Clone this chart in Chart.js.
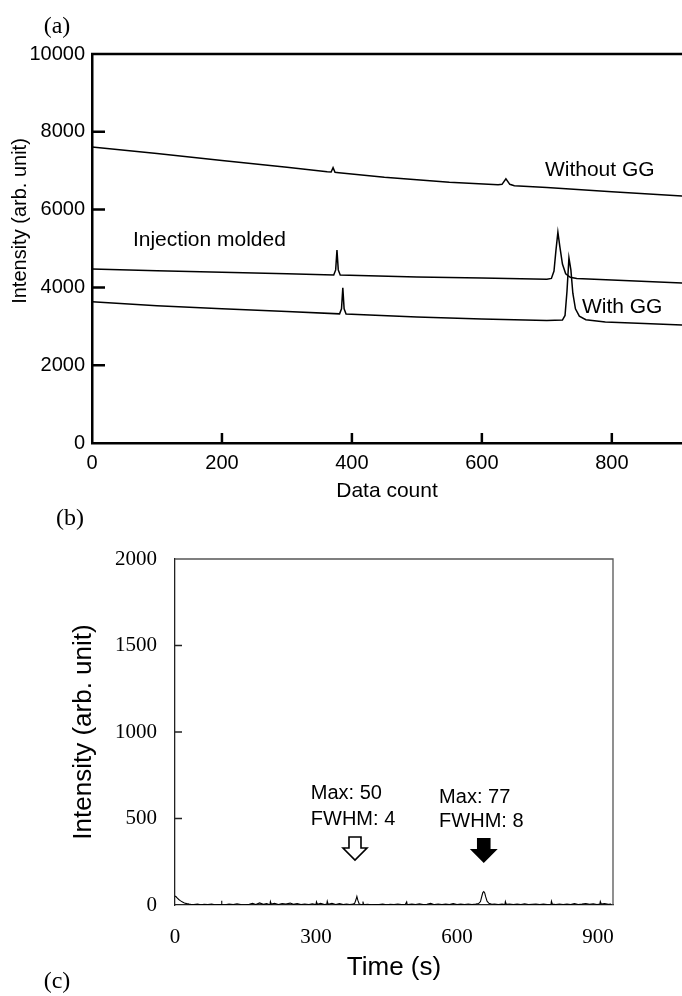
<!DOCTYPE html>
<html>
<head>
<meta charset="utf-8">
<script src="https://cdn.jsdelivr.net/npm/chart.js@4.4.1/dist/chart.umd.min.js"></script>
<style>
  body { margin: 0; background: #fff; }
  #page { position: relative; width: 682px; height: 996px; overflow: hidden; background: #fff; }
  .panel { position: absolute; left: 0; }
  .tag { position: absolute; font-family: "Liberation Serif", serif; font-size: 24px; color: #000; transform: translate(-50%, -50%); }
</style>
</head>
<body>
<div id="page">
  <div class="panel" style="top:0"><canvas id="chartA" width="682" height="510"></canvas></div>
  <div class="panel" style="top:520px"><canvas id="chartB" width="682" height="476"></canvas></div>
  <div class="tag" style="left:57px; top:25px">(a)</div>
  <div class="tag" style="left:70px; top:517px">(b)</div>
  <div class="tag" style="left:57px; top:980px">(c)</div>
</div>
<script>
// (a) spectra vs data count
const countWithout = [0, 100, 200, 300, 362, 368, 371, 374, 380, 450, 550, 625, 631, 637, 643, 650, 700, 800, 910];
const intWithout   = [7610, 7440, 7260, 7090, 6970, 6965, 7080, 6960, 6950, 6830, 6700, 6640, 6650, 6790, 6650, 6615, 6570, 6460, 6350];

const countInjection = [0, 100, 200, 300, 372, 375, 377, 379, 382, 500, 600, 700, 707, 711, 714, 717, 720, 724, 729, 736, 746, 800, 910];
const intInjection   = [4470, 4430, 4390, 4350, 4320, 4450, 4960, 4450, 4320, 4270, 4240, 4210, 4230, 4420, 4950, 5420, 5050, 4600, 4350, 4260, 4230, 4190, 4110];

const countWith = [0, 100, 200, 300, 381, 384, 386, 388, 391, 500, 600, 700, 724, 728, 731, 734, 737, 740, 744, 750, 760, 790, 850, 910];
const intWith   = [3630, 3530, 3450, 3380, 3320, 3450, 3990, 3450, 3315, 3240, 3190, 3150, 3160, 3280, 3900, 4760, 4450, 3850, 3450, 3260, 3170, 3110, 3070, 3030];

const yTicksA = [0, 2000, 4000, 6000, 8000, 10000];
const xTicksA = [0, 200, 400, 600, 800];

// (b) time trace
const timeS = [
  0, 2, 5, 8, 12, 16, 20, 25, 30, 35,
  40, 48, 55, 62, 70, 78, 85, 92, 98, 99,
  100, 106, 115, 124, 132, 140, 150, 158, 165, 172,
  180, 188, 195, 202, 203, 205, 212, 220, 228, 236,
  245, 252, 260, 268, 276, 285, 292, 300, 301, 303,
  310, 318, 323, 324, 326, 334, 342, 350, 358, 365,
  372, 378, 382, 385, 387, 389, 392, 395, 398, 400,
  401, 404, 410, 418, 426, 434, 442, 450, 458, 466,
  474, 482, 490, 493, 494, 496, 504, 512, 520, 528,
  536, 544, 552, 560, 568, 576, 584, 592, 600, 608,
  616, 624, 632, 640, 646, 650, 653, 655, 657, 659,
  661, 664, 668, 674, 680, 688, 696, 702, 703, 705,
  712, 720, 728, 736, 744, 752, 760, 768, 776, 784,
  792, 800, 801, 803, 810, 818, 826, 834, 842, 850,
  858, 866, 874, 882, 890, 898, 904, 905, 907, 914,
  922, 928
];
const signal = [
  52, 48, 40, 32, 24, 17, 12, 8, 5, 3,
  2, 5, 1, 4, 2, 6, 1, 3, 2, 24,
  3, 1, 5, 2, 7, 3, 1, 4, 9, 3,
  12, 4, 8, 2, 20, 5, 10, 3, 9, 6,
  11, 4, 8, 2, 6, 3, 7, 2, 18, 4,
  9, 3, 5, 22, 4, 10, 3, 8, 2, 6,
  3, 5, 8, 30, 50, 28, 6, 4, 3, 20,
  5, 2, 4, 1, 3, 2, 5, 1, 4, 2,
  6, 2, 3, 18, 4, 2, 5, 3, 7, 2,
  4, 9, 2, 6, 3, 5, 2, 8, 3, 5,
  2, 6, 3, 5, 8, 20, 52, 72, 77, 70,
  48, 22, 10, 4, 6, 2, 5, 3, 20, 4,
  6, 2, 5, 3, 7, 2, 4, 6, 2, 5,
  3, 4, 22, 5, 2, 6, 3, 5, 2, 8,
  3, 5, 9, 4, 7, 3, 5, 20, 6, 8,
  4, 6
];
const yTicksB = [0, 500, 1000, 1500, 2000];
const xTicksB = [0, 300, 600, 900];

const toPoints = (xs, ys) => xs.map((v, i) => ({ x: v, y: ys[i] }));
const sans = '"Liberation Sans", Arial, sans-serif';
const serif = '"Liberation Serif", "Times New Roman", serif';
const plain = v => String(v);

function lineSet(xs, ys, width) {
  return { data: toPoints(xs, ys), borderColor: '#000', borderWidth: width, pointRadius: 0, tension: 0, fill: false };
}

new Chart(document.getElementById('chartA'), {
  type: 'line',
  data: {
    datasets: [
      lineSet(countWithout, intWithout, 1.5),
      lineSet(countInjection, intInjection, 1.5),
      lineSet(countWith, intWith, 1.5)
    ]
  },
  options: {
    responsive: false,
    animation: false,
    layout: { padding: { top: 54, left: 0, right: 0, bottom: 0 } },
    plugins: { legend: { display: false }, tooltip: { enabled: false } },
    scales: {
      x: {
        type: 'linear', min: 0, max: 908,
        afterBuildTicks: s => { s.ticks = xTicksA.map(v => ({ value: v })); },
        afterFit: s => { s.height = 67; },
        grid: { display: false, drawTicks: false },
        border: { display: true, color: '#000', width: 2.5 },
        ticks: { color: '#000', padding: 8, callback: plain, font: { family: sans, size: 20 } },
        title: { display: true, text: 'Data count', color: '#000', font: { family: sans, size: 21 }, padding: { top: 0, bottom: 6 } }
      },
      y: {
        type: 'linear', min: 0, max: 10000,
        afterBuildTicks: s => { s.ticks = yTicksA.map(v => ({ value: v })); },
        afterFit: s => { s.width = 92; },
        grid: { display: false, drawTicks: false },
        border: { display: true, color: '#000', width: 2.5 },
        ticks: { color: '#000', padding: 7, callback: plain, font: { family: sans, size: 20 } }
      }
    }
  },
  plugins: [{
    id: 'decorA',
    afterDraw(chart) {
      const { ctx, chartArea: a, scales: { x, y } } = chart;
      ctx.save();
      ctx.strokeStyle = '#000';
      ctx.lineWidth = 2.5;
      ctx.beginPath();
      ctx.moveTo(a.left - 1, a.top);
      ctx.lineTo(a.right, a.top);
      yTicksA.slice(1, -1).forEach(v => {
        const py = y.getPixelForValue(v);
        ctx.moveTo(a.left, py); ctx.lineTo(a.left + 13, py);
      });
      xTicksA.slice(1).forEach(v => {
        const px = x.getPixelForValue(v);
        ctx.moveTo(px, a.bottom); ctx.lineTo(px, a.bottom - 10);
      });
      ctx.stroke();

      ctx.fillStyle = '#000';
      ctx.font = '21px ' + sans;
      ctx.textAlign = 'left';
      ctx.textBaseline = 'middle';
      ctx.fillText('Without GG', x.getPixelForValue(697), y.getPixelForValue(7018));
      ctx.fillText('Injection molded', x.getPixelForValue(63), y.getPixelForValue(5219));
      ctx.fillText('With GG', x.getPixelForValue(754), y.getPixelForValue(3496));

      ctx.translate(20, 221);
      ctx.rotate(-Math.PI / 2);
      ctx.textAlign = 'center';
      ctx.font = '20px ' + sans;
      ctx.fillText('Intensity (arb. unit)', 0, 0);
      ctx.restore();
    }
  }]
});

function drawArrow(ctx, tipX, tipY, filled) {
  const shaftHalf = 6, headHalf = 12, headLen = 12, total = 23;
  ctx.beginPath();
  ctx.moveTo(tipX - shaftHalf, tipY - total);
  ctx.lineTo(tipX + shaftHalf, tipY - total);
  ctx.lineTo(tipX + shaftHalf, tipY - headLen);
  ctx.lineTo(tipX + headHalf, tipY - headLen);
  ctx.lineTo(tipX, tipY);
  ctx.lineTo(tipX - headHalf, tipY - headLen);
  ctx.lineTo(tipX - shaftHalf, tipY - headLen);
  ctx.closePath();
  if (filled) { ctx.fillStyle = '#000'; ctx.fill(); }
  ctx.lineWidth = 1.6;
  ctx.strokeStyle = '#000';
  ctx.stroke();
}

new Chart(document.getElementById('chartB'), {
  type: 'line',
  data: { datasets: [lineSet(timeS, signal, 1.1)] },
  options: {
    responsive: false,
    animation: false,
    layout: { padding: { top: 39, left: 0, right: 69, bottom: 0 } },
    plugins: { legend: { display: false }, tooltip: { enabled: false } },
    scales: {
      x: {
        type: 'linear', min: 0, max: 932,
        afterBuildTicks: s => { s.ticks = xTicksB.map(v => ({ value: v })); },
        afterFit: s => { s.height = 91; },
        grid: { display: false, drawTicks: false },
        border: { display: true, color: '#222', width: 1.3 },
        ticks: { color: '#000', padding: 20, callback: plain, font: { family: serif, size: 21 } },
        title: { display: true, text: 'Time (s)', color: '#000', font: { family: sans, size: 26 }, padding: { top: 0, bottom: 13 } }
      },
      y: {
        type: 'linear', min: 0, max: 2000,
        afterBuildTicks: s => { s.ticks = yTicksB.map(v => ({ value: v })); },
        afterFit: s => { s.width = 175; },
        grid: { display: false, drawTicks: false },
        border: { display: true, color: '#222', width: 1.3 },
        ticks: { color: '#000', padding: 18, callback: plain, font: { family: serif, size: 21 } },
        title: { display: true, text: 'Intensity (arb. unit)', color: '#000', font: { family: sans, size: 26 }, padding: { top: 68, bottom: 0 } }
      }
    }
  },
  plugins: [{
    id: 'decorB',
    afterDraw(chart) {
      const { ctx, chartArea: a, scales: { x, y } } = chart;
      ctx.save();
      ctx.strokeStyle = '#555';
      ctx.lineWidth = 1.3;
      ctx.beginPath();
      ctx.moveTo(a.left, a.top);
      ctx.lineTo(a.right, a.top);
      ctx.lineTo(a.right, a.bottom);
      ctx.stroke();
      ctx.strokeStyle = '#222';
      ctx.beginPath();
      yTicksB.slice(1, -1).forEach(v => {
        const py = y.getPixelForValue(v);
        ctx.moveTo(a.left, py); ctx.lineTo(a.left + 7, py);
      });
      ctx.stroke();

      ctx.fillStyle = '#000';
      ctx.font = '20px ' + sans;
      ctx.textAlign = 'left';
      ctx.textBaseline = 'middle';
      ctx.fillText('Max: 50', x.getPixelForValue(289), y.getPixelForValue(647));
      ctx.fillText('FWHM: 4', x.getPixelForValue(289), y.getPixelForValue(497));
      ctx.fillText('Max: 77', x.getPixelForValue(562), y.getPixelForValue(624));
      ctx.fillText('FWHM: 8', x.getPixelForValue(562), y.getPixelForValue(480));

      drawArrow(ctx, x.getPixelForValue(383), y.getPixelForValue(260), false);
      drawArrow(ctx, x.getPixelForValue(657), y.getPixelForValue(249), true);
      ctx.restore();
    }
  }]
});
</script>
</body>
</html>
